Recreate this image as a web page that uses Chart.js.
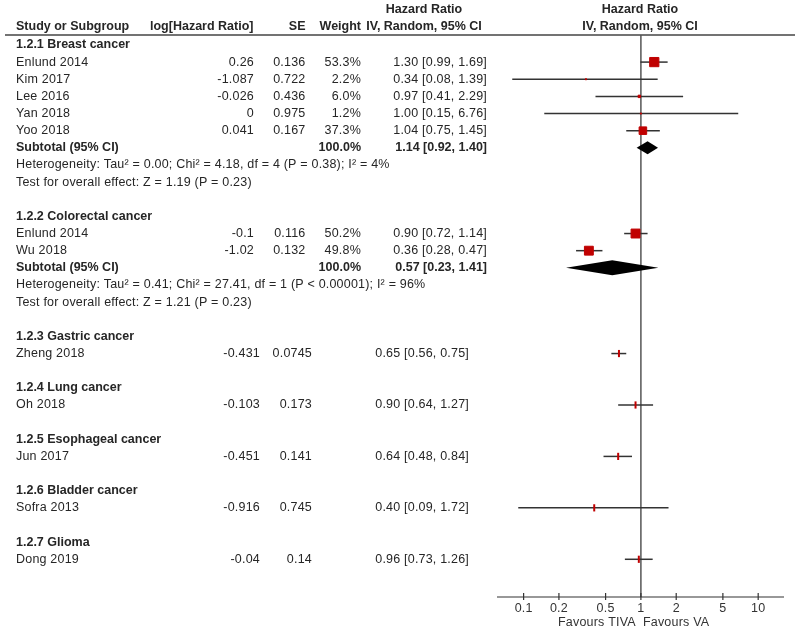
<!DOCTYPE html>
<html>
<head>
<meta charset="utf-8">
<script src="https://cdn.jsdelivr.net/npm/chart.js@4.4.1/dist/chart.umd.min.js"></script>
<style>
	html, body { margin: 0; padding: 0; background: #fff; }
	#wrap { width: 800px; height: 633px; }
</style>
</head>
<body>
<div id="wrap"><canvas id="forest"></canvas></div>
<script>
"use strict";

// Studies, in display order
let studies = ["Enlund 2014", "Kim 2017", "Lee 2016", "Yan 2018", "Yoo 2018",
	"Enlund 2014", "Wu 2018",
	"Zheng 2018", "Oh 2018", "Jun 2017", "Sofra 2013", "Dong 2019"];
let study_rows = [1, 2, 3, 4, 5, 11, 12, 18, 21, 24, 27, 30];
let log_hr = ["0.26", "-1.087", "-0.026", "0", "0.041", "-0.1", "-1.02",
	"-0.431", "-0.103", "-0.451", "-0.916", "-0.04"];
let se = ["0.136", "0.722", "0.436", "0.975", "0.167", "0.116", "0.132",
	"0.0745", "0.173", "0.141", "0.745", "0.14"];
let weights = [53.3, 2.2, 6.0, 1.2, 37.3, 50.2, 49.8, null, null, null, null, null];
let hr = [1.30, 0.34, 0.97, 1.00, 1.04, 0.90, 0.36, 0.65, 0.90, 0.64, 0.40, 0.96];
let ci_low = [0.99, 0.08, 0.41, 0.15, 0.75, 0.72, 0.28, 0.56, 0.64, 0.48, 0.09, 0.73];
let ci_high = [1.69, 1.39, 2.29, 6.76, 1.45, 1.14, 0.47, 0.75, 1.27, 0.84, 1.72, 1.26];

// Subgroups
let subgroup_names = ["1.2.1 Breast cancer", "1.2.2 Colorectal cancer", "1.2.3 Gastric cancer",
	"1.2.4 Lung cancer", "1.2.5 Esophageal cancer", "1.2.6 Bladder cancer", "1.2.7 Glioma"];
let subgroup_rows = [0, 10, 17, 20, 23, 26, 29];

// Subtotals (random effects)
let subtotal_rows = [6, 13];
let subtotal_hr = [1.14, 0.57];
let subtotal_low = [0.92, 0.23];
let subtotal_high = [1.40, 1.41];
let heterogeneity = [
	"Heterogeneity: Tau² = 0.00; Chi² = 4.18, df = 4 (P = 0.38); I² = 4%",
	"Heterogeneity: Tau² = 0.41; Chi² = 27.41, df = 1 (P < 0.00001); I² = 96%",
];
let overall_effect = [
	"Test for overall effect: Z = 1.19 (P = 0.23)",
	"Test for overall effect: Z = 1.21 (P = 0.23)",
];

// Axis
let tick_values = [0.1, 0.2, 0.5, 1, 2, 5, 10];
let tick_labels = ["0.1", "0.2", "0.5", "1", "2", "5", "10"];
let favours_left = "Favours TIVA";
let favours_right = "Favours VA";

const RED = "#c00000";
const INK = "#262626";
const FONT = "'Liberation Sans', Arial, sans-serif";

function fmt(v) {
	return v.toFixed(2);
}

function hrText(v, lo, hi) {
	return fmt(v) + " [" + fmt(lo) + ", " + fmt(hi) + "]";
}

function squareRadius(w) {
	let side = 1.4 * Math.sqrt(w);
	return Math.max(0.8, (side - 1) / Math.SQRT2);
}

// markers first so they sit on top of the whiskers
let datasets = [];
datasets.push({
	type: "scatter",
	order: 0,
	data: studies.map((s, i) => ({ x: hr[i], y: study_rows[i] })),
	pointStyle: weights.map((w) => (w == null ? "line" : "rect")),
	pointRadius: weights.map((w) => (w == null ? 3.6 : squareRadius(w))),
	rotation: weights.map((w) => (w == null ? 90 : 0)),
	borderWidth: weights.map((w) => (w == null ? 2 : 1)),
	backgroundColor: RED,
	borderColor: RED,
});
// whisker lines, one dataset per study
for (let i = 0; i < studies.length; i++) {
	datasets.push({
		type: "line",
		order: 1,
		data: [
			{ x: ci_low[i], y: study_rows[i] },
			{ x: ci_high[i], y: study_rows[i] },
		],
		borderColor: "#333",
		borderWidth: 1.5,
		pointRadius: 0,
	});
}

let forestPlugin = {
	id: "forest",
	beforeDatasetsDraw(chart) {
		let ctx = chart.ctx;
		let xs = chart.scales.x;
		let area = chart.chartArea;
		ctx.save();
		// header rule
		ctx.strokeStyle = "#444";
		ctx.lineWidth = 1.5;
		ctx.beginPath();
		ctx.moveTo(5, area.top);
		ctx.lineTo(795, area.top);
		ctx.stroke();
		// line of no effect
		let x1 = xs.getPixelForValue(1);
		ctx.strokeStyle = "#555";
		ctx.lineWidth = 1.5;
		ctx.beginPath();
		ctx.moveTo(x1, area.top);
		ctx.lineTo(x1, area.bottom);
		ctx.stroke();
		ctx.restore();
	},
	afterDatasetsDraw(chart) {
		let ctx = chart.ctx;
		let xs = chart.scales.x;
		let ys = chart.scales.y;
		let area = chart.chartArea;
		ctx.save();

		// subtotal diamonds
		ctx.fillStyle = "#000";
		subtotal_rows.forEach((r, i) => {
			let y = ys.getPixelForValue(r);
			let h = i == 0 ? 6.5 : 7.5;
			ctx.beginPath();
			ctx.moveTo(xs.getPixelForValue(subtotal_low[i]), y);
			ctx.lineTo(xs.getPixelForValue(subtotal_hr[i]), y - h);
			ctx.lineTo(xs.getPixelForValue(subtotal_high[i]), y);
			ctx.lineTo(xs.getPixelForValue(subtotal_hr[i]), y + h);
			ctx.closePath();
			ctx.fill();
		});

		// text helper
		let text = (s, x, y, align, bold) => {
			ctx.font = (bold ? "bold 12.5px " : "12.5px ") + FONT;
			ctx.letterSpacing = bold ? "0px" : "0.2px";
			ctx.textAlign = align;
			ctx.fillText(s, x, y);
		};
		ctx.textBaseline = "middle";

		// x axis
		let ay = area.bottom;
		ctx.strokeStyle = "#333";
		ctx.lineWidth = 1.2;
		ctx.beginPath();
		ctx.moveTo(area.left, ay);
		ctx.lineTo(area.right, ay);
		tick_values.forEach((v) => {
			let tx = xs.getPixelForValue(v);
			ctx.moveTo(tx, ay - 4);
			ctx.lineTo(tx, ay + 3);
		});
		ctx.stroke();

		ctx.fillStyle = "#333";
		tick_values.forEach((v, i) => {
			text(tick_labels[i], xs.getPixelForValue(v), ay + 12, "center", false);
		});
		let x1 = xs.getPixelForValue(1);
		text(favours_left, x1 - 5, ay + 26, "right", false);
		text(favours_right, x1 + 2, ay + 26, "left", false);

		// table text
		ctx.fillStyle = INK;
		let head1 = 10;
		let head2 = 27;
		text("Hazard Ratio", 424, head1, "center", true);
		text("Hazard Ratio", 640, head1, "center", true);
		text("Study or Subgroup", 16, head2, "left", true);
		text("log[Hazard Ratio]", 150, head2, "left", true);
		text("SE", 305.5, head2, "right", true);
		text("Weight", 361, head2, "right", true);
		text("IV, Random, 95% CI", 424, head2, "center", true);
		text("IV, Random, 95% CI", 640, head2, "center", true);

		subgroup_names.forEach((name, i) => {
			text(name, 16, ys.getPixelForValue(subgroup_rows[i]), "left", true);
		});

		studies.forEach((name, i) => {
			let y = ys.getPixelForValue(study_rows[i]);
			let single = weights[i] == null;
			text(name, 16, y, "left", false);
			text(log_hr[i], single ? 260 : 254, y, "right", false);
			text(se[i], single ? 312 : 305.5, y, "right", false);
			if (!single) text(weights[i].toFixed(1) + "%", 361, y, "right", false);
			text(hrText(hr[i], ci_low[i], ci_high[i]), single ? 469 : 487, y, "right", false);
		});

		subtotal_rows.forEach((r, i) => {
			let y = ys.getPixelForValue(r);
			text("Subtotal (95% CI)", 16, y, "left", true);
			text("100.0%", 361, y, "right", true);
			text(hrText(subtotal_hr[i], subtotal_low[i], subtotal_high[i]), 487, y, "right", true);
			text(heterogeneity[i], 16, ys.getPixelForValue(r + 1), "left", false);
			text(overall_effect[i], 16, ys.getPixelForValue(r + 2), "left", false);
		});

		ctx.restore();
	},
};

let canvas = document.getElementById("forest");
let ctx = canvas.getContext("2d");
new Chart(ctx, {
	data: { datasets: datasets },
	plugins: [forestPlugin],
	options: {
		responsive: true,
		maintainAspectRatio: false,
		animation: false,
		layout: { padding: { left: 497, right: 16, top: 35, bottom: 36 } },
		plugins: { legend: { display: false }, tooltip: { enabled: false } },
		scales: {
			x: { type: "logarithmic", min: 0.0593, max: 16.6, display: false },
			y: { type: "linear", min: -0.58, max: 32.2, reverse: true, display: false },
		},
	},
});
</script>
</body>
</html>
